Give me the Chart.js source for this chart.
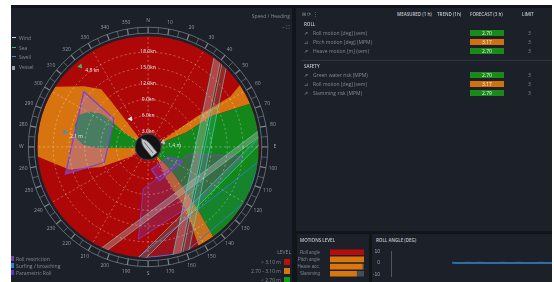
<!DOCTYPE html>
<html>
<head>
<meta charset="utf-8">
<script src="https://cdn.jsdelivr.net/npm/chart.js@4.4.1/dist/chart.umd.min.js"></script>
<style>
  body { margin: 0; width: 554px; height: 282px; overflow: hidden; background: #fff; position: relative;
         font-family: "Open Sans", Roboto, sans-serif; }
  #frame { position: absolute; left: 11px; top: 5px; width: 541px; height: 277px; background: #111519; }
  .panel { position: absolute; background: #1b2029; overflow: hidden; }
  .t { position: absolute; white-space: nowrap; color: #a3a9b0; font-size: 5px; line-height: 6px; }
  .dim { color: #858b93; }
  .hd { color: #c4c9cf; font-weight: 600; font-size: 4.5px; }
  .box { position: absolute; width: 34px; height: 6px; color: #f2f2f2; font-size: 5px; line-height: 6px; text-align: center; }
  .chip { position: absolute; width: 6px; height: 6px; }
  canvas { position: absolute; }
</style>
</head>
<body>
<div id="frame"></div>
<div class="panel" style="left:11px;top:8px;width:281px;height:274px;">
  <canvas id="polar" width="281" height="274" style="left:0;top:0;width:281px;height:274px;"></canvas>
</div>
<div class="panel" id="tablePanel" style="left:296px;top:8px;width:256px;height:223px;"></div>
<div class="panel" style="left:297px;top:234px;width:72px;height:48px;">
  <canvas id="levels" width="72" height="38" style="left:0;top:10px;width:72px;height:38px;"></canvas>
</div>
<div class="panel" style="left:372px;top:234px;width:180px;height:48px;">
  <canvas id="roll" width="180" height="37" style="left:0;top:11px;width:180px;height:37px;"></canvas>
</div>
<div id="texts"></div>

<script>
// ---- polar diagram data: [bearing deg, speed kn] ----
const SPEED_MAX = 21;
const speedRings = [3, 6, 9, 12, 15, 18];
const SHIP_HEADING = 321;

const orangeLeft = [[315, 2.4], [321, 11.2], [321, 14.1], [313.6, 16.7], [303, 21], [265, 21],
  [254, 15.6], [247, 9.7], [241, 3.8], [245, 2.4]];
const orangeRight = [[65, 2.9], [58, 11.1], [58.5, 18.3], [56, 21], [67, 21], [64, 13.4], [69, 7.8], [71.5, 3]];
const orangeSouth = [[135, 2.6], [136, 6.7], [141, 14.3], [144, 21], [153, 21], [149, 14.3], [150, 7.1], [140, 2.4]];
const greenLeft = [[300, 2.2], [301, 5.4], [305.4, 8.7], [305.3, 10.9], [301, 13.0], [295.2, 14.4],
  [286.4, 14.5], [277.7, 13.9], [271.7, 12.3], [268.9, 9.7], [268.5, 7.1], [267.4, 4.1], [265, 2.2]];
const greenRight = [[71.5, 3], [69, 7.8], [64, 13.4], [67, 21], [144, 21], [141, 14.3], [136, 6.7],
  [135, 2.6], [100, 2.4]];

const rollRestrictA = [[310.8, 16.1], [309.6, 8.4], [250.4, 8.8], [251.8, 16.5]];
const rollRestrictB = [[171.9, 4.3], [114.7, 4.4], [113.2, 7.0], [161.5, 6.8]];
const paramRoll = [[186.6, 8.0], [99.2, 8.0], [95.9, 18.0], [134, 14.1], [186, 17.6]];
const surfing = [[185.9, 21.3], [97, 21.3], [118.4, 21.3], [161.3, 21.3]];
const bandA = [[35.9, 21.5], [39.1, 22], [164.2, 22], [168, 21.8]];
const bandB = [[40.2, 22], [42.3, 22.5], [160.1, 22.1], [162.8, 21.8]];
const bandC = [[205.3, 21.5], [80.8, 21.8], [83.4, 22], [202.7, 21.8]];
const bandD = [[186, 21.5], [83.2, 22], [85.4, 22.5], [183.8, 22.2]];

const markerBearing = [320, 280, 72, 328];
const markerSpeed = [20.0, 16.0, 3.0, 6.3];
const markerColor = ['#2fbf71', '#3a8fd8', '#b8bcc2', '#e6e6e6'];
const markerText = ['4.8 kn', '2.1 m', '1.4 m', ''];

// ---- table data ----
const rollRows = ['Roll motion [deg] (sem)', 'Pitch motion [deg] (MPM)', 'Heave motion [m] (sem)'];
const rollForecast = [2.70, 3.17, 2.70];
const rollLimit = [3, 3, 3];
const safetyRows = ['Green water risk (MPM)', 'Roll motion [deg] (sem)', 'Slamming risk (MPM)'];
const safetyForecast = [2.70, 3.17, 2.79];
const safetyLimit = [3, 3, 3];
const FORECAST_WARN = 3.10;

// ---- motion level bars ----
const levelNames = ['Roll angle', 'Pitch angle', 'Heave acc.', 'Slamming'];
const levelValues = [100, 100, 95, 78];
const levelColors = ['#b80b0b', '#d9760f', '#d9760f', '#d9760f'];

// ---- roll angle trace ----
const rollTimes = ['10:00', '10:02', '10:04', '10:06', '10:08', '10:10', '10:12', '10:14', '10:16', '10:18',
  '10:20', '10:22', '10:24', '10:26', '10:28', '10:30', '10:32', '10:34', '10:36', '10:38',
  '10:40', '10:42', '10:44', '10:46', '10:48', '10:50', '10:52', '10:54', '10:56', '10:58'];
const rollAngle = [null, null, null, null, null, null, null, null, null, null, null,
  0.1, 0.0, -0.1, 0.1, 0.0, 0.1, -0.1, 0.0, 0.0, 0.1, -0.1, 0.0, 0.1, 0.0, -0.1, 0.0, 0.1, 0.0, 0.0];
const rollTicks = [10, 0, -10];

const RED = '#ad0707', ORANGE = '#d7740f', GREEN = '#13871a';

function xy(b, s) {
  const a = b * Math.PI / 180;
  return { x: s * Math.sin(a), y: s * Math.cos(a) };
}

// closed polygon; follows the rim where two neighbours sit on it
function polyData(pts, rim) {
  const out = [];
  for (let i = 0; i < pts.length; i++) {
    const p = pts[i], q = pts[(i + 1) % pts.length];
    out.push(xy(p[0], p[1]));
    if (rim && p[1] === SPEED_MAX && q[1] === SPEED_MAX) {
      const dir = q[0] > p[0] ? 1 : -1;
      for (let b = p[0] + dir * 2; dir * (q[0] - b) > 0; b += dir * 2) out.push(xy(b, SPEED_MAX));
    }
  }
  out.push(out[0]);
  return out;
}

function region(pts, fill, border, order, rim, bw) {
  return {
    data: polyData(pts, rim), showLine: true, fill: 'shape', backgroundColor: fill,
    borderColor: border, borderWidth: bw || 0, pointRadius: 0, tension: 0, order: order
  };
}

const polarDecor = {
  id: 'polarDecor',
  beforeDatasetsDraw(chart) {
    const { ctx, scales: { x, y } } = chart;
    const cx = x.getPixelForValue(0), cy = y.getPixelForValue(0);
    const R = x.getPixelForValue(SPEED_MAX) - cx;
    ctx.save();
    ctx.beginPath();
    ctx.arc(cx, cy, R, 0, Math.PI * 2);
    ctx.fillStyle = RED;
    ctx.fill();
    ctx.clip();
  },
  afterDatasetsDraw(chart) {
    const { ctx, scales: { x, y } } = chart;
    ctx.restore();
    const cx = x.getPixelForValue(0), cy = y.getPixelForValue(0);
    const px = x.getPixelForValue(1) - cx;
    const R = SPEED_MAX * px;
    const hub = 13;

    // grid
    ctx.save();
    ctx.strokeStyle = 'rgba(255,255,255,0.42)';
    ctx.lineWidth = 0.8;
    ctx.setLineDash([2, 2.5]);
    speedRings.forEach(s => {
      ctx.beginPath();
      ctx.arc(cx, cy, s * px, 0, Math.PI * 2);
      ctx.stroke();
    });
    for (let b = 0; b < 360; b += 30) {
      const a = b * Math.PI / 180;
      ctx.beginPath();
      ctx.moveTo(cx + hub * Math.sin(a), cy - hub * Math.cos(a));
      ctx.lineTo(cx + R * Math.sin(a), cy - R * Math.cos(a));
      ctx.stroke();
    }
    ctx.setLineDash([]);

    // compass ring
    const r1 = R + 3, r2 = R + 9;
    ctx.strokeStyle = '#80868d';
    ctx.lineWidth = 0.7;
    [r1, r2].forEach(r => { ctx.beginPath(); ctx.arc(cx, cy, r, 0, Math.PI * 2); ctx.stroke(); });
    for (let b = 0; b < 360; b += 5) {
      const a = b * Math.PI / 180;
      ctx.lineWidth = b % 10 === 0 ? 1.2 : 0.6;
      ctx.beginPath();
      ctx.moveTo(cx + r1 * Math.sin(a), cy - r1 * Math.cos(a));
      ctx.lineTo(cx + r2 * Math.sin(a), cy - r2 * Math.cos(a));
      ctx.stroke();
    }
    ctx.fillStyle = '#979da4';
    ctx.font = '5px "Open Sans"';
    ctx.textAlign = 'center';
    ctx.textBaseline = 'middle';
    for (let b = 0; b < 360; b += 10) {
      const a = b * Math.PI / 180, r = R + 16;
      const lab = { 0: 'N', 90: 'E', 180: 'S', 270: 'W' }[b] || String(b);
      ctx.fillText(lab, cx + r * Math.sin(a), cy - r * Math.cos(a));
    }

    // speed labels on the north spoke
    ctx.fillStyle = '#e4e4e4';
    speedRings.forEach(s => ctx.fillText(s.toFixed(1) + 'kn', cx, cy - s * px));

    // hub + ship
    ctx.beginPath();
    ctx.arc(cx, cy, hub, 0, Math.PI * 2);
    ctx.fillStyle = '#111315';
    ctx.fill();
    ctx.strokeStyle = '#3b4047';
    ctx.lineWidth = 1;
    ctx.stroke();
    ctx.translate(cx, cy);
    ctx.rotate(SHIP_HEADING * Math.PI / 180);
    ctx.beginPath();
    ctx.moveTo(0, -11);
    ctx.quadraticCurveTo(3.5, -6, 3.5, -2);
    ctx.lineTo(3.5, 10);
    ctx.lineTo(-3.5, 10);
    ctx.lineTo(-3.5, -2);
    ctx.quadraticCurveTo(-3.5, -6, 0, -11);
    ctx.fillStyle = '#c4c6c8';
    ctx.fill();
    ctx.strokeStyle = '#5d6166';
    ctx.lineWidth = 0.8;
    ctx.stroke();
    ctx.beginPath();
    ctx.moveTo(0, -6); ctx.lineTo(0, 8);
    ctx.stroke();
    ctx.restore();

    // marker texts
    ctx.save();
    ctx.font = '5px "Open Sans"';
    ctx.fillStyle = '#e8e8e8';
    ctx.textBaseline = 'middle';
    markerText.forEach((t, i) => {
      if (!t) return;
      const p = xy(markerBearing[i], markerSpeed[i]);
      ctx.fillText(t, x.getPixelForValue(p.x) + 5, y.getPixelForValue(p.y) + 4);
    });
    ctx.restore();
  }
};

const kpx = 114 / SPEED_MAX, CX = 137, CY = 139;
new Chart(document.getElementById('polar'), {
  type: 'scatter',
  data: {
    datasets: [
      {
        data: markerBearing.map((b, i) => xy(b, markerSpeed[i])), pointStyle: 'triangle',
        pointRadius: 3, rotation: markerBearing.map(b => b + 180), backgroundColor: markerColor,
        borderWidth: 0, order: 0
      },
      region(bandA, 'rgba(205,185,185,0.35)', 'rgba(90,200,190,0.9)', 1, false, 0.8),
      region(bandC, 'rgba(205,185,185,0.35)', 'rgba(90,200,190,0.9)', 1, false, 0.8),
      region(bandB, 'rgba(70,190,180,0.18)', 'rgba(90,210,200,0.8)', 2, false, 0.8),
      region(bandD, 'rgba(70,190,180,0.18)', 'rgba(90,210,200,0.8)', 2, false, 0.8),
      region(surfing, 'rgba(40,110,200,0.10)', '#2b7fd4', 3, false, 1),
      region(paramRoll, 'rgba(130,60,150,0.35)', 'rgba(130,60,210,0.8)', 4, false, 1),
      region(rollRestrictA, 'rgba(160,110,215,0.38)', '#7b3fe0', 4, false, 1.2),
      region(rollRestrictB, 'rgba(150,60,200,0.35)', '#7b3fe0', 4, false, 1.2),
      region(greenLeft, GREEN, GREEN, 7, false, 0),
      region(greenRight, GREEN, GREEN, 7, true, 0),
      region(orangeLeft, ORANGE, ORANGE, 8, true, 0),
      region(orangeRight, ORANGE, ORANGE, 8, true, 0),
      region(orangeSouth, ORANGE, ORANGE, 8, true, 0)
    ]
  },
  options: {
    responsive: false,
    animation: false,
    layout: { padding: 0 },
    plugins: { legend: { display: false }, tooltip: { enabled: false } },
    scales: {
      x: { type: 'linear', display: false, min: -CX / kpx, max: (281 - CX) / kpx },
      y: { type: 'linear', display: false, min: -(274 - CY) / kpx, max: CY / kpx }
    }
  },
  plugins: [polarDecor]
});

new Chart(document.getElementById('levels'), {
  type: 'bar',
  data: {
    labels: levelNames,
    datasets: [
      { data: levelValues, backgroundColor: levelColors, barThickness: 5, stack: 'a' },
      { data: levelValues.map(v => 100 - v), backgroundColor: '#474d55', barThickness: 5, stack: 'a' }
    ]
  },
  options: {
    indexAxis: 'y', responsive: false, animation: false,
    layout: { padding: { right: 5, top: 1, bottom: 0 } },
    plugins: { legend: { display: false }, tooltip: { enabled: false } },
    scales: {
      x: { stacked: true, display: false, min: 0, max: 100 },
      y: {
        stacked: true, grid: { display: false }, border: { display: false },
        ticks: { color: '#80868d', font: { size: 4.5 }, padding: 2 },
        afterFit(s) { s.width = 33; }
      }
    }
  }
});

new Chart(document.getElementById('roll'), {
  type: 'line',
  data: {
    labels: rollTimes,
    datasets: [{ data: rollAngle, borderColor: '#2e6ea6', borderWidth: 2, pointRadius: 0, tension: 0 }]
  },
  options: {
    responsive: false, animation: false,
    layout: { padding: { top: 1, right: 0, bottom: 0 } },
    plugins: { legend: { display: false }, tooltip: { enabled: false } },
    scales: {
      x: { display: false },
      y: {
        min: -11.5, max: 10.5, grid: { display: false }, border: { color: '#4f555d' },
        ticks: { color: '#9ba1a8', font: { size: 5 }, padding: 3 },
        afterBuildTicks(s) { s.ticks = rollTicks.map(v => ({ value: v })); },
        afterFit(s) { s.width = 19; }
      }
    }
  }
});

// ---- text overlays (page coordinates) ----
const texts = document.getElementById('texts');
function txt(x, y, s, cls, align) {
  const d = document.createElement('div');
  d.className = 't ' + (cls || '');
  d.textContent = s;
  d.style.top = (y - 3) + 'px';
  if (align === 'r') d.style.right = (554 - x) + 'px'; else d.style.left = x + 'px';
  texts.appendChild(d);
  return d;
}
function chip(x, y, c, w, h) {
  const d = document.createElement('div');
  d.className = 'chip';
  d.style.left = x + 'px'; d.style.top = y + 'px'; d.style.background = c;
  if (w) d.style.width = w + 'px';
  if (h) d.style.height = h + 'px';
  texts.appendChild(d);
}

// polar legends
const topLegend = ['Wind', 'Sea', 'Swell', 'Vessel'];
const topLegendColor = ['#d8d8d8', '#2fbf71', '#3a8fd8', '#9aa0a6'];
topLegend.forEach((s, i) => {
  chip(12, 37 + i * 9.5, topLegendColor[i], i === 3 ? 3 : 4, i === 3 ? 4 : 1);
  txt(19, 38 + i * 9.5, s, 'dim');
});
const zoneLegend = ['Roll restriction', 'Surfing / broaching', 'Parametric Roll'];
const zoneColor = ['#7b3fa0', '#2b7fd4', '#5a2ee0'];
zoneLegend.forEach((s, i) => {
  chip(11, 256 + i * 7, zoneColor[i], 3, 5);
  txt(16, 259 + i * 7, s, 'dim');
});
txt(291, 252, 'LEVEL', 'dim', 'r');
const riskText = ['> 3.10 m', '2.70 - 3.10 m', '< 2.70 m'];
const riskColor = ['#c00d0d', '#d9760f', '#169a1e'];
riskText.forEach((s, i) => {
  txt(281, 262 + i * 9, s, 'dim', 'r');
  chip(284, 259 + i * 9, riskColor[i]);
});
txt(290, 16, 'Speed / Heading', 'dim', 'r');
txt(290, 27, '– ⛶', 'dim', 'r');

// table
txt(302, 14, '⊞ ⟳ ⋮', 'dim');
txt(397, 14, 'MEASURED (1 h)', 'hd');
txt(437, 14, 'TREND (1h)', 'hd');
txt(470, 14, 'FORECAST (3 h)', 'hd');
txt(522, 14, 'LIMIT', 'hd');
function section(y0, title, rows, fc, lim) {
  txt(304, y0, title, 'hd');
  rows.forEach((s, i) => {
    const yy = y0 + 9 + i * 9;
    txt(304, yy, i % 2 ? '⊿' : '⇗', 'dim');
    txt(313, yy, s, 'dim');
    const b = document.createElement('div');
    b.className = 'box';
    b.style.left = '470px'; b.style.top = (yy - 3) + 'px';
    b.style.background = fc[i] > FORECAST_WARN ? '#d2700e' : '#1a8a1a';
    b.textContent = fc[i].toFixed(2);
    texts.appendChild(b);
    txt(528, yy, String(lim[i]), 'dim');
  });
}
section(24, 'ROLL', rollRows, rollForecast, rollLimit);
const sep = document.createElement('div');
sep.style.cssText = 'position:absolute;left:301px;top:60px;width:251px;height:1px;background:#30363e;';
texts.appendChild(sep);
section(66, 'SAFETY', safetyRows, safetyForecast, safetyLimit);

txt(300, 240, 'MOTIONS LEVEL', 'hd');
txt(376, 240, 'ROLL ANGLE (DEG)', 'hd');
</script>
</body>
</html>
